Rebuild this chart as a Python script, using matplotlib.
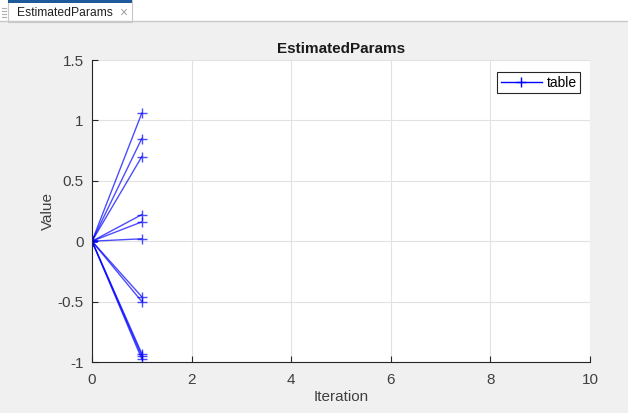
import matplotlib.pyplot as plt
from matplotlib.patches import Rectangle

plt.rcParams['font.family'] = ['Liberation Sans', 'DejaVu Sans']

iterations = [0, 1]
final_values = [1.06, 0.85, 0.70, 0.22, 0.16, 0.02, -0.46, -0.50, -0.93, -0.95, -0.975]
xticks = [0, 2, 4, 6, 8, 10]
yticks = [-1, -0.5, 0, 0.5, 1, 1.5]
ytick_labels = ['-1', '-0.5', '0', '0.5', '1', '1.5']

W, H = 628, 413
fig = plt.figure(figsize=(W / 100, H / 100), dpi=100, facecolor='#f0f0f0')

# tab strip at the top
fig.patches.append(Rectangle((0, 1 - 21 / H), 1, 21 / H, transform=fig.transFigure,
                             facecolor='white', edgecolor='none', zorder=0))
fig.lines.append(plt.Line2D([0, 1], [1 - 21 / H, 1 - 21 / H], transform=fig.transFigure,
                            color='#c8c8c8', lw=1))
fig.patches.append(Rectangle((8 / W, 1 - 22 / H), 124 / W, 22 / H, transform=fig.transFigure,
                             facecolor='white', edgecolor='#c8c8c8', lw=0.8, zorder=1))
fig.patches.append(Rectangle((8 / W, 1 - 3 / H), 124 / W, 3 / H, transform=fig.transFigure,
                             facecolor='#1c5a9c', edgecolor='none', zorder=2))
for k in range(4):
    fig.lines.append(plt.Line2D([2 / W, 6 / W], [1 - (8 + 3 * k) / H] * 2,
                                transform=fig.transFigure, color='#b0b0b0', lw=0.8))
fig.text(17 / W, 1 - 12.5 / H, 'EstimatedParams', fontsize=8.7, va='center', ha='left', color='#202020')
fig.text(123 / W, 1 - 12.5 / H, '×', fontsize=10, va='center', ha='center', color='#a0a0a0')

ax = fig.add_axes([92 / W, (H - 362) / H, (590 - 92) / W, (362 - 60) / H])
ax.set_facecolor('white')

for i, v in enumerate(final_values):
    ax.plot(iterations, [0, v], color='blue', marker='+', markersize=6.5, lw=1, alpha=0.7,
            label='table' if i == 0 else None)

ax.set_xlim(0, 10)
ax.set_ylim(-1, 1.5)
ax.set_xticks(xticks)
ax.set_yticks(yticks)
ax.set_yticklabels(ytick_labels)
ax.grid(True, color='#e2e2e2', lw=0.8)
ax.set_axisbelow(True)
for s in ['top', 'right']:
    ax.spines[s].set_visible(False)
for s in ['left', 'bottom']:
    ax.spines[s].set_color('#262626')
    ax.spines[s].set_linewidth(0.8)
ax.tick_params(direction='in', length=4, width=0.8, color='#262626',
               labelsize=11, labelcolor='#404040')
ax.tick_params(axis='x', pad=8)
ax.tick_params(axis='y', pad=6)

ax.set_title('EstimatedParams', fontsize=11, fontweight='bold', color='#1a1a1a', pad=5)
ax.set_xlabel('Iteration', fontsize=11, color='#404040', labelpad=2)
ax.set_ylabel('Value', fontsize=11, color='#404040', labelpad=2)

leg = ax.legend(loc='upper right', bbox_to_anchor=(0.98, 0.96), fontsize=10, frameon=True,
                fancybox=False, edgecolor='#262626', framealpha=1, handlelength=3.0,
                borderpad=0.25, handletextpad=0.3, borderaxespad=0)
leg.get_frame().set_linewidth(0.8)
for h in leg.legend_handles:
    h.set_alpha(1)

fig.savefig('out.png', dpi=100, facecolor=fig.get_facecolor())
